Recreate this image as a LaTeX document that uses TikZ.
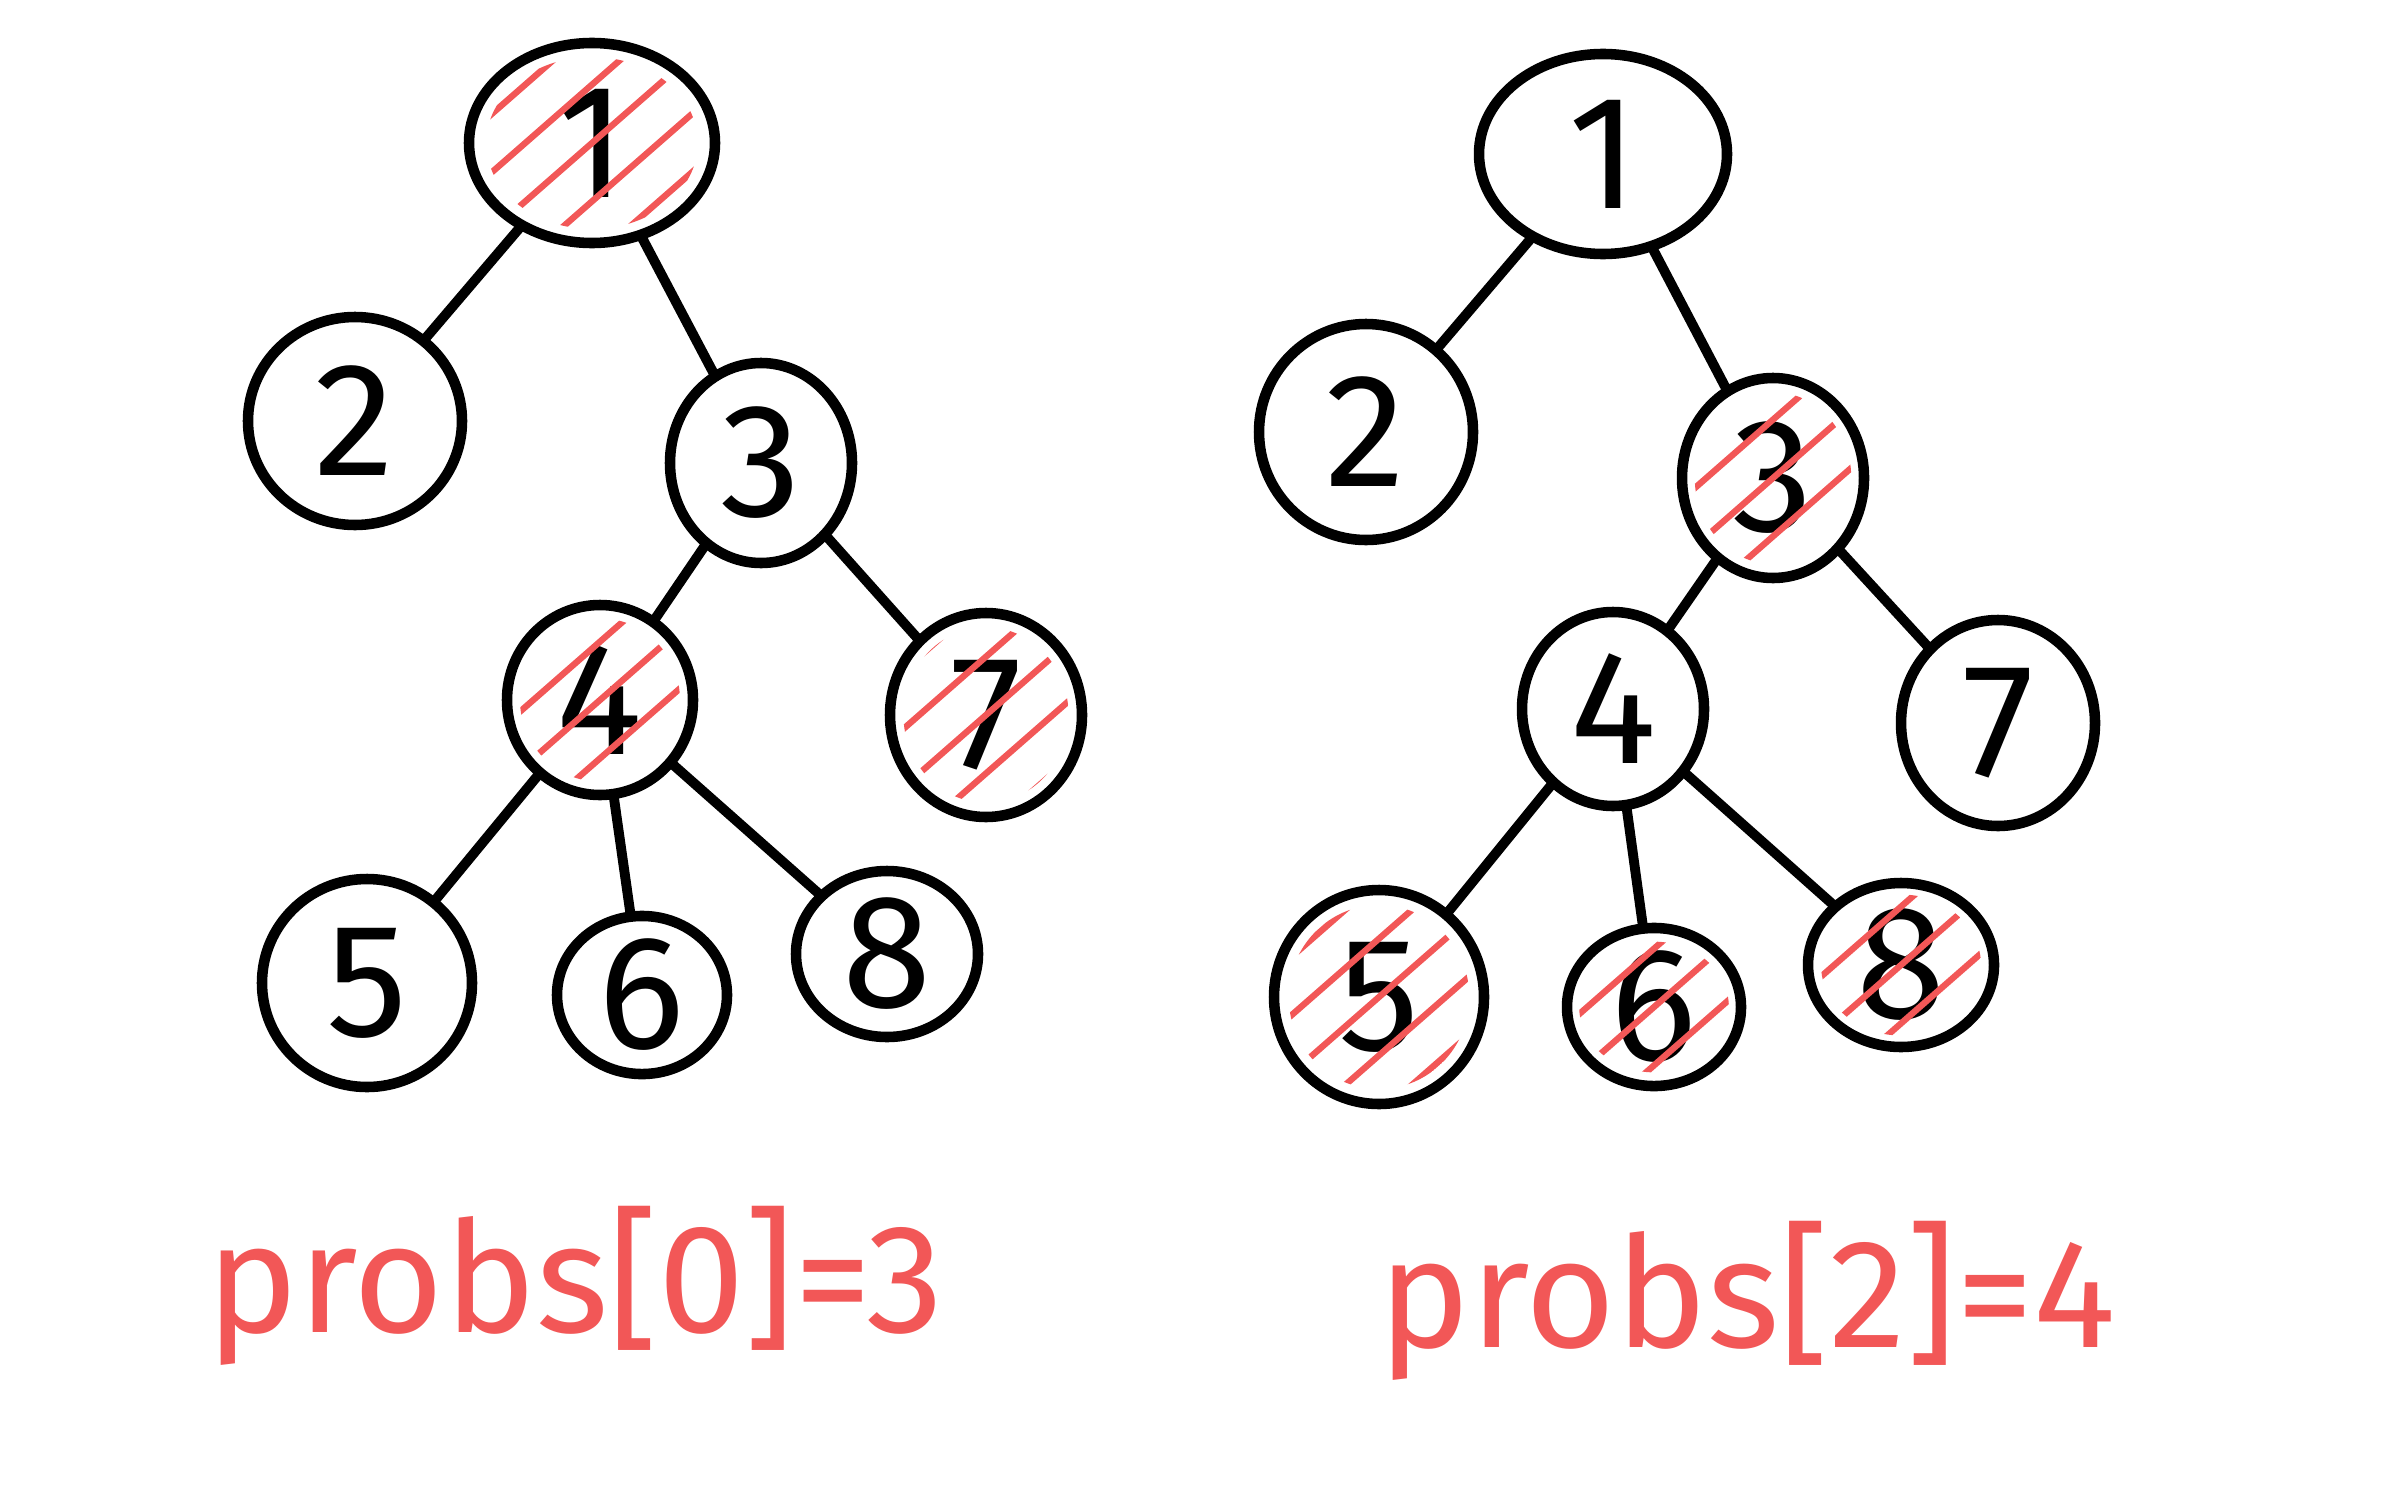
\documentclass[tikz,border=0pt]{standalone}
\usepackage{fontspec}
\setmainfont{Fira Sans}
\usetikzlibrary{shapes.geometric,calc}
\definecolor{pen}{HTML}{F25757}
\tikzset{
 tn/.style={draw=black, line width=3pt, ellipse, inner sep=0pt, outer sep=0pt, font=\fontsize{46}{50}\selectfont},
 edge/.style={draw=black, line width=2.8pt, line cap=round},
 hatch/.style={draw=pen, line width=1.8pt, line cap=round},
 lbl/.style={text=pen, font=\fontsize{44}{48}\selectfont}
}
\newcommand\tnode[6]{\node[tn, minimum width={2*#4*0.01cm}, minimum height={2*#5*0.01cm}] (#1) at (#2,#3) {#6};}
\newcommand\hatchit[3]{%
 \begin{scope}
 \clip (#1.center) ellipse [x radius={#2*0.86}, y radius={#3*0.86}];
 \foreach \k in {-3,...,3} \draw[hatch] ($(#1.center)+({\k*29-120},{\k*33+105})$) -- ++(240,-210);
 \end{scope}}
\begin{document}
\begin{tikzpicture}[x=0.01cm,y=-0.01cm]
\useasboundingbox[fill=white] (0,0) rectangle (2386,1491);
% left tree
\tnode{La}{592}{143}{123}{100}{1}
\tnode{Lb}{355}{421}{107}{104}{2}
\tnode{Lc}{761}{463}{91}{100}{3}
\tnode{Ld}{600}{700}{93}{95}{4}
\tnode{Lg}{986}{715}{96}{102}{7}
\tnode{Le}{367}{983}{105}{104}{5}
\tnode{Lf}{642}{995}{85}{78}{6}
\tnode{Lh}{887}{954}{91}{83}{8}
\draw[edge] (La) -- (Lb);
\draw[edge] (La) -- (Lc);
\draw[edge] (Lc) -- (Ld);
\draw[edge] (Lc) -- (Lg);
\draw[edge] (Ld) -- (Le);
\draw[edge] (Ld) -- (Lf);
\draw[edge] (Ld) -- (Lh);
\hatchit{La}{123}{100}
\hatchit{Ld}{93}{95}
\hatchit{Lg}{96}{102}
% right tree
\tnode{Ra}{1603}{154}{124}{100}{1}
\tnode{Rb}{1366}{432}{107}{108}{2}
\tnode{Rc}{1773}{478}{91}{100}{3}
\tnode{Rd}{1613}{709}{91}{97}{4}
\tnode{Rg}{1998}{723}{97}{103}{7}
\tnode{Re}{1379}{997}{105}{107}{5}
\tnode{Rf}{1654}{1007}{87}{76}{6}
\tnode{Rh}{1901}{965}{93}{82}{8}
\draw[edge] (Ra) -- (Rb);
\draw[edge] (Ra) -- (Rc);
\draw[edge] (Rc) -- (Rd);
\draw[edge] (Rc) -- (Rg);
\draw[edge] (Rd) -- (Re);
\draw[edge] (Rd) -- (Rf);
\draw[edge] (Rd) -- (Rh);
\hatchit{Rc}{91}{100}
\hatchit{Re}{105}{107}
\hatchit{Rf}{87}{76}
\hatchit{Rh}{93}{82}
% labels
\node[lbl] (lab1) at (575,1286) {probs[0]=3};
\node[lbl] (lab2) at (1747,1301) {probs[2]=4};
\end{tikzpicture}
\end{document}
